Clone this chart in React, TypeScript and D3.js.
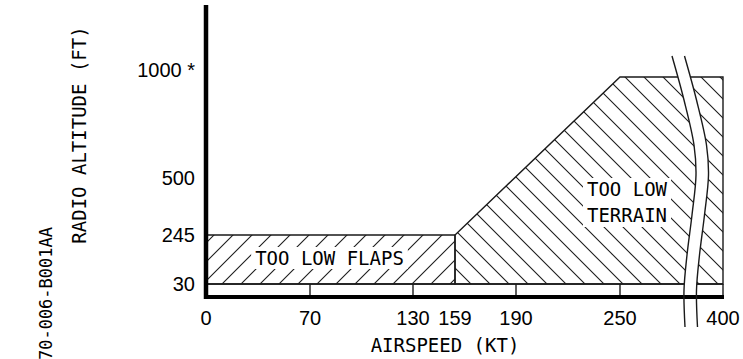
import React from "react";
import * as d3 from "d3";

const W = 743;
const H = 359;

// Data
const SPEED_TICKS = [0, 70, 130, 159, 190, 250, 400];
const SPEED_LABELS = ["0", "70", "130", "159", "190", "250", "400"];
const ALT_TICKS = [30, 245, 500, 1000];
const ALT_LABELS = ["30", "245", "500", "1000 *"];
const BAND_DIVIDERS = [70, 130, 190, 250];
const FLAPS_SPEED = [0, 159, 159, 0];
const FLAPS_ALT = [30, 30, 245, 245];
const TERRAIN_SPEED = [159, 159, 250, 400, 400];
const TERRAIN_ALT = [30, 245, 1000, 1000, 30];
const FLOOR_ALT = 30;
const BASE_ALT = 0;
const MAX_SPEED = 400;

// Layout (schematic, non-linear axis)
const xScale = d3
  .scaleLinear()
  .domain(SPEED_TICKS)
  .range([206, 310, 413, 455, 516, 620, 723]);
const yScale = d3
  .scaleLinear()
  .domain([BASE_ALT, 30, 245, 500, 1000])
  .range([297, 284, 235, 178, 77]);

const AXIS_TOP = 5;
const LABEL_FONT = "'DejaVu Sans Mono', monospace";
const NUM_FONT = "'Liberation Sans', Arial, sans-serif";

// break marker (decorative), offsets relative to break center line
const BREAK_LEFT: [number, number][] = [
  [672, 56],
  [684, 100],
  [694, 145],
  [696, 175],
  [692, 215],
  [687, 255],
  [684, 290],
  [685, 327],
];
const BREAK_GAP = 12.5;

export default function App() {
  const poly = (sp: number[], al: number[]) =>
    sp.map((s, i) => `${xScale(s)},${yScale(al[i])}`).join(" ");

  const flapsPts = poly(FLAPS_SPEED, FLAPS_ALT);
  const terrainPts = poly(TERRAIN_SPEED, TERRAIN_ALT);

  // hatch lines
  const step = 19;
  const terrainHatch = d3.range(-700, -150, step).map((c) => ({
    x1: 400,
    y1: 400 + c,
    x2: 780,
    y2: 780 + c,
  }));
  const flapsHatch = d3.range(430, 760, step).map((c) => ({
    x1: 150,
    y1: c - 150,
    x2: 500,
    y2: c - 500,
  }));

  const lineGen = d3
    .line<[number, number]>()
    .x((d) => d[0])
    .y((d) => d[1])
    .curve(d3.curveCatmullRom);
  const rightCurve: [number, number][] = BREAK_LEFT.map(([x, y]) => [x + BREAK_GAP, y]);
  const leftPath = lineGen(BREAK_LEFT) || "";
  const rightPath = lineGen(rightCurve) || "";
  const area = d3
    .area<[number, number]>()
    .y((d) => d[1])
    .x0((d) => d[0])
    .x1((d) => d[0] + BREAK_GAP)
    .curve(d3.curveCatmullRom);
  const gapPath = area(BREAK_LEFT.filter((p) => p[1] <= 300)) || "";

  const x0 = xScale(0);
  const xMax = xScale(MAX_SPEED);
  const yBase = yScale(BASE_ALT);
  const yFloor = yScale(FLOOR_ALT);
  const stroke = "#1a1a1a";

  const flapsText = "TOO LOW FLAPS";
  const charW = 19 * 0.602;
  const flapsCx = 329.5;
  const flapsCy = 258;
  const flapsW = flapsText.length * charW;

  const terrCx = 627;
  const terrLines = ["TOO LOW", "TERRAIN"];
  const terrW = 7 * charW;

  return (
    <svg
      width={W}
      height={H}
      style={{ position: "absolute", left: 0, top: 0, background: "#fff" }}
    >
      <defs>
        <clipPath id="clipFlaps">
          <polygon points={flapsPts} />
        </clipPath>
        <clipPath id="clipTerrain">
          <polygon points={terrainPts} />
        </clipPath>
      </defs>
      <rect x={0} y={0} width={W} height={H} fill="#fff" />

      {/* hatching */}
      <g clipPath="url(#clipTerrain)" stroke={stroke} strokeWidth={1.1}>
        {terrainHatch.map((l, i) => (
          <line key={i} {...l} />
        ))}
      </g>
      <g clipPath="url(#clipFlaps)" stroke={stroke} strokeWidth={1.1}>
        {flapsHatch.map((l, i) => (
          <line key={i} {...l} />
        ))}
      </g>

      {/* region outlines */}
      <polygon points={flapsPts} fill="none" stroke={stroke} strokeWidth={1.4} />
      <polygon points={terrainPts} fill="none" stroke={stroke} strokeWidth={1.4} />

      {/* floor line and band dividers */}
      <line x1={x0} x2={xMax} y1={yFloor} y2={yFloor} stroke={stroke} strokeWidth={1.4} />
      {BAND_DIVIDERS.map((s) => (
        <line
          key={s}
          x1={xScale(s)}
          x2={xScale(s)}
          y1={yFloor}
          y2={yBase}
          stroke={stroke}
          strokeWidth={1.4}
        />
      ))}
      <line x1={xMax} x2={xMax} y1={yFloor} y2={yBase} stroke={stroke} strokeWidth={1.4} />

      {/* text boxes */}
      <rect
        x={flapsCx - flapsW / 2 - 4}
        y={flapsCy - 11}
        width={flapsW + 8}
        height={22}
        fill="#fff"
      />
      <text
        x={flapsCx}
        y={flapsCy}
        textAnchor="middle"
        dominantBaseline="central"
        fontFamily={LABEL_FONT}
        fontSize={19}
        fill="#000"
      >
        {flapsText}
      </text>
      <rect x={terrCx - terrW / 2 - 4} y={178} width={terrW + 8} height={49} fill="#fff" />
      {terrLines.map((t, i) => (
        <text
          key={t}
          x={terrCx}
          y={189 + i * 26}
          textAnchor="middle"
          dominantBaseline="central"
          fontFamily={LABEL_FONT}
          fontSize={19}
          fill="#000"
        >
          {t}
        </text>
      ))}

      {/* break gap mask */}
      <path d={gapPath} fill="#fff" />

      {/* axes */}
      <line x1={x0} x2={x0} y1={AXIS_TOP} y2={yBase + 2} stroke="#000" strokeWidth={4.5} />
      <line x1={x0 - 2} x2={xMax + 1} y1={yBase} y2={yBase} stroke="#000" strokeWidth={4} />

      {/* break curves */}
      <path d={leftPath} fill="none" stroke={stroke} strokeWidth={1.4} />
      <path d={rightPath} fill="none" stroke={stroke} strokeWidth={1.4} />

      {/* y tick labels */}
      {ALT_TICKS.map((a, i) => (
        <text
          key={a}
          x={195}
          y={yScale(a) - (a === 1000 ? 7 : 0)}
          textAnchor="end"
          dominantBaseline="central"
          fontFamily={NUM_FONT}
          fontSize={20}
          fill="#000"
        >
          {ALT_LABELS[i]}
        </text>
      ))}

      {/* x tick labels */}
      {SPEED_TICKS.map((s, i) => (
        <text
          key={s}
          x={xScale(s)}
          y={318}
          textAnchor="middle"
          dominantBaseline="central"
          fontFamily={NUM_FONT}
          fontSize={20}
          fill="#000"
        >
          {SPEED_LABELS[i]}
        </text>
      ))}

      {/* axis titles */}
      <text
        x={445}
        y={345}
        textAnchor="middle"
        dominantBaseline="central"
        fontFamily={LABEL_FONT}
        fontSize={19}
        fill="#000"
      >
        AIRSPEED (KT)
      </text>
      <text
        transform={`translate(79,135) rotate(-90)`}
        textAnchor="middle"
        dominantBaseline="central"
        fontFamily={LABEL_FONT}
        fontSize={19}
        fill="#000"
      >
        RADIO ALTITUDE (FT)
      </text>
      <text
        transform={`translate(46,227) rotate(-90)`}
        textAnchor="end"
        dominantBaseline="central"
        fontFamily={LABEL_FONT}
        fontSize={17}
        fill="#000"
      >
        70-006-B001AA
      </text>
    </svg>
  );
}
